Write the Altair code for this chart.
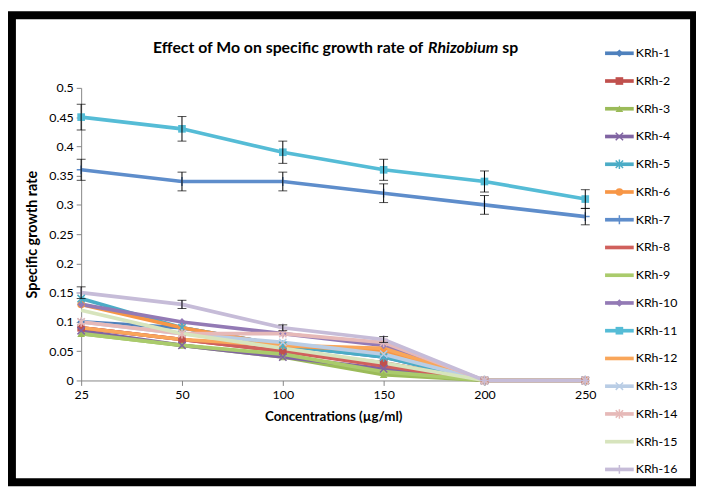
import altair as alt
import pandas as pd

concentrations = ["25", "50", "100", "150", "200", "250"]
series_names = [f"KRh-{i}" for i in range(1, 17)]

krh1 = [0.10, 0.09, 0.06, 0.04, 0, 0]
krh2 = [0.09, 0.07, 0.05, 0.03, 0, 0]
krh3 = [0.08, 0.06, 0.04, 0.01, 0, 0]
krh4 = [0.085, 0.06, 0.04, 0.02, 0, 0]
krh5 = [0.14, 0.09, 0.06, 0.04, 0, 0]
krh6 = [0.13, 0.09, 0.06, 0.05, 0, 0]
krh7 = [0.36, 0.34, 0.34, 0.32, 0.30, 0.28]
krh8 = [0.09, 0.07, 0.05, 0.025, 0, 0]
krh9 = [0.08, 0.06, 0.045, 0.015, 0, 0]
krh10 = [0.13, 0.10, 0.08, 0.06, 0, 0]
krh11 = [0.45, 0.43, 0.39, 0.36, 0.34, 0.31]
krh12 = [0.09, 0.07, 0.06, 0.055, 0, 0]
krh13 = [0.10, 0.08, 0.065, 0.045, 0, 0]
krh14 = [0.10, 0.08, 0.08, 0.065, 0, 0]
krh15 = [0.12, 0.08, 0.055, 0.03, 0, 0]
krh16 = [0.15, 0.13, 0.09, 0.07, 0, 0]
growth = [krh1, krh2, krh3, krh4, krh5, krh6, krh7, krh8,
          krh9, krh10, krh11, krh12, krh13, krh14, krh15, krh16]

err_series = ["KRh-7", "KRh-11", "KRh-16"]
err_krh7 = [0.018, 0.016, 0.016, 0.016, 0.016, 0.014]
err_krh11 = [0.022, 0.021, 0.019, 0.018, 0.018, 0.016]
err_krh16 = [0.010, 0.007, 0.005, 0.005, 0, 0]
errors = [err_krh7, err_krh11, err_krh16]

colors = ["#4F81BD", "#C0504D", "#9BBB59", "#8064A2", "#4BACC6", "#F79646",
          "#5E8DCB", "#D0605C", "#AACB6C", "#937AB5", "#55BCD6", "#F9A65A",
          "#B9CDE5", "#E6B9B8", "#D7E4BD", "#C6BCD8"]
markers = ["diamond", "square", "triangle", "x", "asterisk", "circle", "plus", "none",
           "none", "diamond", "square", "none", "x", "asterisk", "none", "plus"]

title_parts = ["Effect of Mo on specific growth rate of", "Rhizobium", "sp"]
y_ticks = [0, 0.05, 0.1, 0.15, 0.2, 0.25, 0.3, 0.35, 0.4, 0.45, 0.5]

FONT = "Lato"

rows = []
for s, vals, m in zip(series_names, growth, markers):
    for c, v in zip(concentrations, vals):
        rows.append({"series": s, "conc": c, "value": v, "marker": m})
df = pd.DataFrame(rows)

erows = []
for s, errs in zip(err_series, errors):
    vals = growth[series_names.index(s)]
    for c, v, e in zip(concentrations, vals, errs):
        if e > 0:
            erows.append({"series": s, "conc": c, "lo": v - e, "hi": v + e})
df_err = pd.DataFrame(erows)

df_leg = pd.DataFrame({"series": series_names, "marker": markers})

shape_domain = ["diamond", "square", "triangle", "circle", "x", "asterisk", "plus"]
shape_range = ["diamond", "square", "triangle-up", "circle",
               "M-1,-1L1,1M-1,1L1,-1",
               "M-1,-1L1,1M-1,1L1,-1M0,-1.3L0,1.3",
               "M0,-1.2L0,1.2M-1.2,0L1.2,0"]
filled_kinds = ["diamond", "square", "triangle", "circle"]
stroke_kinds = ["x", "asterisk", "plus"]

x_scale = alt.Scale(type="point", domain=concentrations, padding=0)
x_enc = alt.X("conc:O", sort=concentrations, scale=x_scale,
              axis=alt.Axis(title="Concentrations (µg/ml)", labelAngle=0))
x_plain = alt.X("conc:O", sort=concentrations, scale=x_scale)
y_scale = alt.Scale(domain=[0, 0.5], nice=False, zero=True)
y_main = alt.Y("value:Q", scale=y_scale,
               axis=alt.Axis(values=y_ticks, format="~g", title="Specific growth rate"))
y_plain = alt.Y("value:Q", scale=y_scale, axis=None)
color_enc = alt.Color("series:N", scale=alt.Scale(domain=series_names, range=colors),
                      legend=None)
shape_enc = alt.Shape("marker:N", scale=alt.Scale(domain=shape_domain, range=shape_range),
                      legend=None)

base = alt.Chart(df)
lines = base.mark_line(strokeWidth=3.7).encode(x=x_enc, y=y_main, color=color_enc)
pts_f = base.transform_filter(
    alt.FieldOneOfPredicate(field="marker", oneOf=filled_kinds)
).mark_point(filled=True, size=60, opacity=1).encode(
    x=x_plain, y=y_plain, color=color_enc, shape=shape_enc)
pts_s = base.transform_filter(
    alt.FieldOneOfPredicate(field="marker", oneOf=stroke_kinds)
).mark_point(filled=False, size=55, strokeWidth=1.5, opacity=1).encode(
    x=x_plain, y=y_plain, color=color_enc, shape=shape_enc)

ebase = alt.Chart(df_err)
err_rule = ebase.mark_rule(color="black", strokeWidth=1).encode(
    x=x_plain, y=alt.Y("lo:Q", scale=y_scale, axis=None), y2="hi:Q")
err_lo = ebase.mark_tick(color="black", thickness=1, size=9, orient="horizontal").encode(
    x=x_plain, y=alt.Y("lo:Q", scale=y_scale, axis=None))
err_hi = ebase.mark_tick(color="black", thickness=1, size=9, orient="horizontal").encode(
    x=x_plain, y=alt.Y("hi:Q", scale=y_scale, axis=None))

ly = alt.Y("series:N", sort=series_names,
           scale=alt.Scale(type="point", domain=series_names, range=[-35, 386], padding=0),
           axis=None)
lbase = alt.Chart(df_leg)
leg_rule = lbase.mark_rule(strokeWidth=3.7).encode(
    x=alt.value(530), x2=alt.value(559), y=ly, color=color_enc)
leg_pf = lbase.transform_filter(
    alt.FieldOneOfPredicate(field="marker", oneOf=filled_kinds)
).mark_point(filled=True, size=60, opacity=1).encode(
    x=alt.value(544.5), y=ly, color=color_enc, shape=shape_enc)
leg_ps = lbase.transform_filter(
    alt.FieldOneOfPredicate(field="marker", oneOf=stroke_kinds)
).mark_point(filled=False, size=55, strokeWidth=1.5, opacity=1).encode(
    x=alt.value(544.5), y=ly, color=color_enc, shape=shape_enc)
leg_text = lbase.mark_text(align="left", baseline="middle", fontSize=12.5, font=FONT,
                           color="black").encode(x=alt.value(561), y=ly, text="series:N")

one = pd.DataFrame({"t": title_parts})
t1 = alt.Chart(one).transform_filter(alt.datum.t == title_parts[0]).mark_text(
    align="right", baseline="middle", fontSize=16, fontWeight="bold", font=FONT,
    color="black").encode(x=alt.value(346), y=alt.value(-40), text="t:N")
t2 = alt.Chart(one).transform_filter(alt.datum.t == title_parts[1]).mark_text(
    align="left", baseline="middle", fontSize=16, fontWeight="bold", fontStyle="italic",
    font=FONT, color="black").encode(x=alt.value(351), y=alt.value(-40), text="t:N")
t3 = alt.Chart(one).transform_filter(alt.datum.t == title_parts[2]).mark_text(
    align="left", baseline="middle", fontSize=16, fontWeight="bold", font=FONT,
    color="black").encode(x=alt.value(426), y=alt.value(-40), text="t:N")

frame = alt.Chart(pd.DataFrame({"f": [0]})).mark_rect(
    filled=False, stroke="black", strokeWidth=8).encode(
    x=alt.value(-70), x2=alt.value(620), y=alt.value(-73.5), y2=alt.value(399))

chart = alt.layer(
    lines, pts_f, pts_s, err_rule, err_lo, err_hi,
    leg_rule, leg_pf, leg_ps, leg_text, t1, t2, t3, frame
).resolve_scale(y="independent").properties(
    width=510, height=296,
    autosize=alt.AutoSizeParams(type="none"),
    padding={"left": 74, "top": 78, "right": 112, "bottom": 107},
    background="white",
).configure_view(stroke=None).configure_axis(
    domainColor="#868686", tickColor="#868686", tickSize=5, grid=False,
    labelFont=FONT, labelFontSize=12.5, labelColor="black",
    titleFont=FONT, titleFontWeight="bold", titleColor="black",
).configure_axisY(labelPadding=3, titlePadding=9, titleFontSize=14.5).configure_axisX(
    labelPadding=3, titlePadding=9, titleFontSize=13.5)

chart.save("out.html", embed_options={"renderer": "svg", "actions": False})
